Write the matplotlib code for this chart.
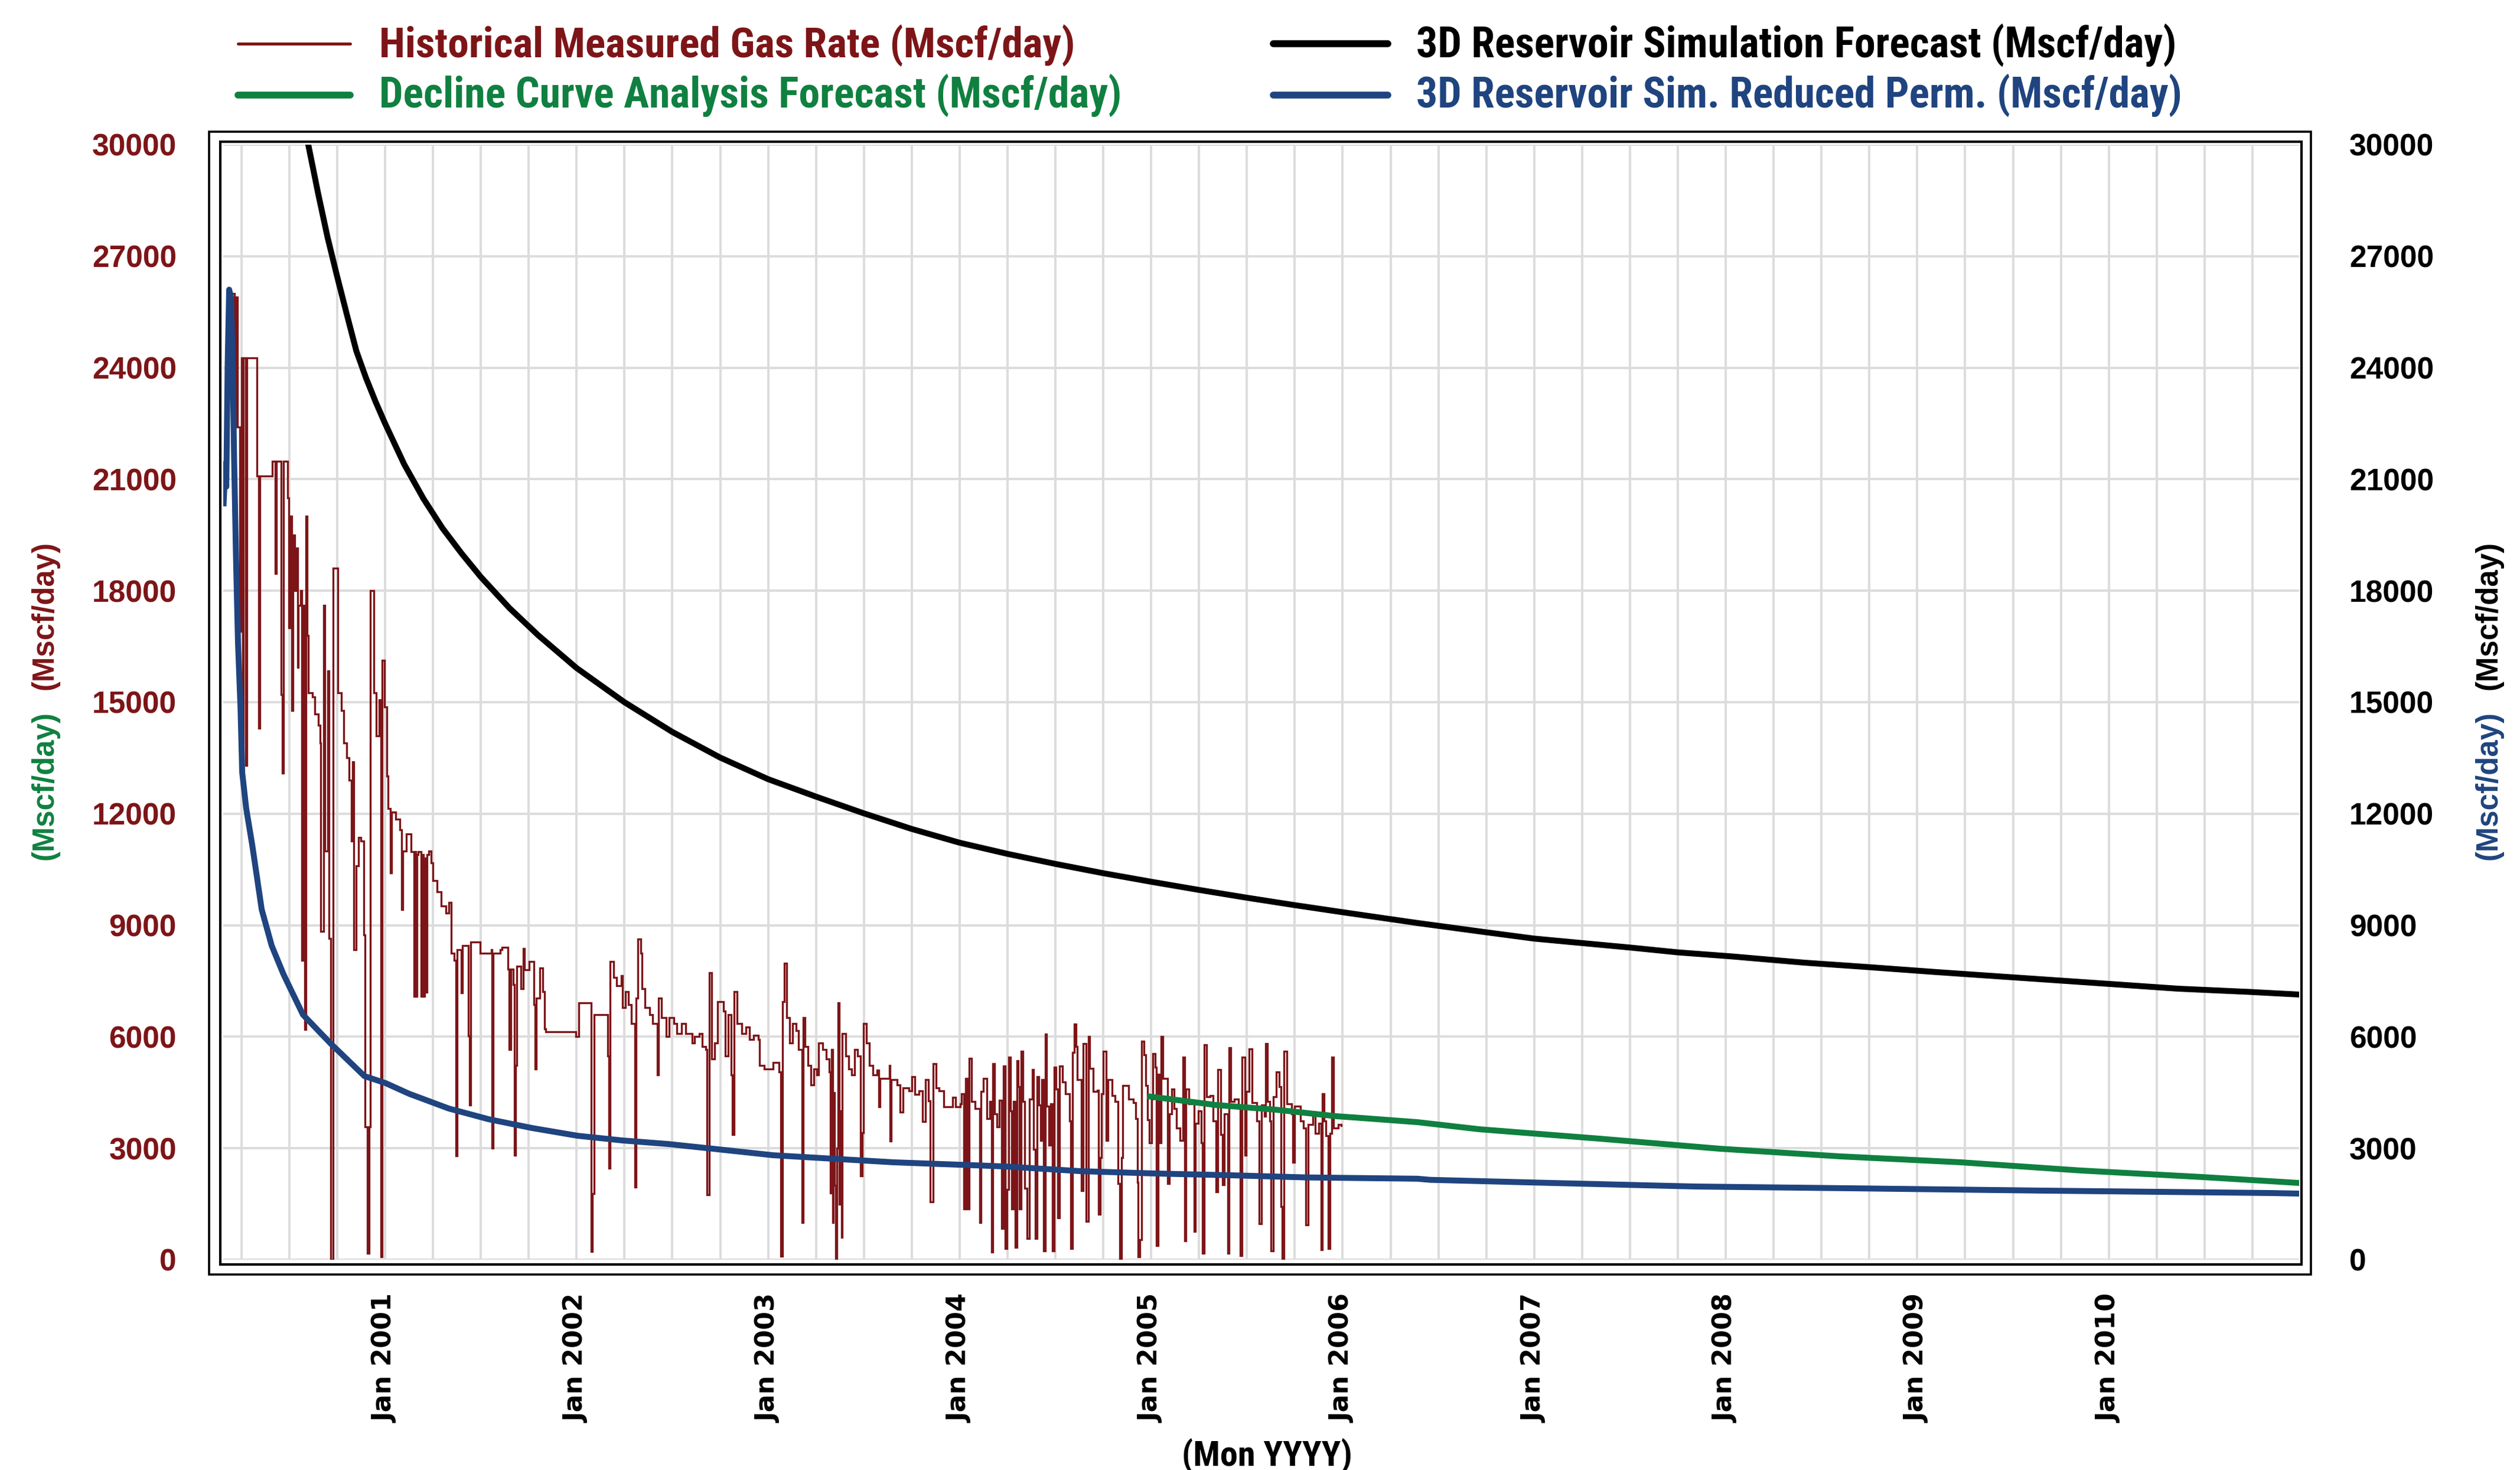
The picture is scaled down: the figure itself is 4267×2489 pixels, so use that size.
import numpy as np
import matplotlib
matplotlib.use("Agg")
import matplotlib.pyplot as plt
from matplotlib import font_manager
from matplotlib.lines import Line2D
from matplotlib.patches import Rectangle

# Размер картинки в пикселях
W, H = 4267, 2489
DPI = 200

RED = "#7d1518"
GREEN = "#0f8040"
BLUE = "#1f447f"
GRID = "#dcdcdc"

# Исторический дебит газа (год, Mscf/day)
hist_data = [
    (2000.204, 26000), (2000.214, 22400), (2000.220, 25900), (2000.230, 22400),
    (2000.240, 16900), (2000.246, 22300), (2000.251, 24260), (2000.256, 13100),
    (2000.261, 24260), (2000.272, 13300), (2000.277, 24260), (2000.331, 21090),
    (2000.340, 14300), (2000.345, 21090), (2000.412, 21480), (2000.427, 18470),
    (2000.433, 21480), (2000.456, 15200), (2000.462, 13100), (2000.470, 21480),
    (2000.490, 20500), (2000.496, 17000), (2000.502, 20000), (2000.512, 14770),
    (2000.518, 19500), (2000.528, 18000), (2000.533, 19150), (2000.542, 15940),
    (2000.548, 17600), (2000.558, 18000), (2000.565, 8060), (2000.572, 17600),
    (2000.580, 6200), (2000.586, 20000), (2000.592, 16800), (2000.600, 15250),
    (2000.620, 15150), (2000.632, 14680), (2000.650, 14380), (2000.660, 13900),
    (2000.664, 8840), (2000.678, 17600), (2000.686, 11000), (2000.700, 15840),
    (2000.708, 8640), (2000.716, 0), (2000.730, 18600), (2000.752, 15250),
    (2000.772, 14770), (2000.785, 13900), (2000.798, 13500), (2000.812, 12900),
    (2000.823, 11270), (2000.830, 13400), (2000.838, 8350), (2000.850, 10600),
    (2000.862, 11360), (2000.874, 11270), (2000.888, 8740), (2000.896, 3580),
    (2000.908, 180), (2000.916, 3580), (2000.922, 18000), (2000.942, 15250),
    (2000.955, 14090), (2000.968, 15060), (2000.978, 80), (2000.986, 16130),
    (2000.998, 14870), (2001.008, 13020), (2001.016, 12140), (2001.028, 10400),
    (2001.034, 12050), (2001.056, 11850), (2001.076, 11560), (2001.086, 9420),
    (2001.092, 11000), (2001.112, 11460), (2001.135, 10980), (2001.150, 7090),
    (2001.156, 10980), (2001.160, 7090), (2001.166, 10900), (2001.172, 10980),
    (2001.189, 7090), (2001.195, 10900), (2001.200, 7090), (2001.206, 10800),
    (2001.212, 7200), (2001.220, 10900), (2001.228, 11000), (2001.240, 10680),
    (2001.251, 10200), (2001.271, 9900), (2001.292, 9520), (2001.318, 9320),
    (2001.333, 9610), (2001.344, 8250), (2001.362, 8060), (2001.369, 2800),
    (2001.376, 8350), (2001.398, 7180), (2001.404, 8450), (2001.436, 6020),
    (2001.442, 4170), (2001.448, 8550), (2001.497, 8250), (2001.555, 8350),
    (2001.559, 3000), (2001.565, 8250), (2001.600, 8350),
    (2001.611, 8410), (2001.642, 7810), (2001.648, 5660), (2001.656, 7810),
    (2001.670, 7400), (2001.674, 2810), (2001.681, 5230), (2001.689, 7900),
    (2001.708, 7290), (2001.721, 8370), (2001.729, 7800), (2001.752, 8030),
    (2001.776, 6860), (2001.784, 5140), (2001.790, 7035), (2001.807, 7850),
    (2001.823, 7210), (2001.831, 6220), (2001.839, 6130), (2001.996, 6000),
    (2002.012, 6910), (2002.075, 230), (2002.083, 1780), (2002.090, 6600),
    (2002.161, 5480), (2002.169, 2470), (2002.174, 8030), (2002.193, 7600),
    (2002.208, 7380), (2002.232, 7640), (2002.240, 6780), (2002.256, 7210),
    (2002.271, 6860), (2002.287, 6350), (2002.303, 1950), (2002.311, 7040),
    (2002.319, 8630), (2002.334, 8240), (2002.342, 7290), (2002.358, 6780),
    (2002.381, 6600), (2002.397, 6350), (2002.421, 4970), (2002.429, 7040),
    (2002.444, 6520), (2002.468, 6000), (2002.484, 6520), (2002.507, 6350),
    (2002.523, 6090), (2002.547, 6350), (2002.570, 6090), (2002.602, 5830),
    (2002.617, 6000), (2002.641, 6090), (2002.657, 5740), (2002.673, 5660),
    (2002.680, 1740), (2002.693, 7720), (2002.704, 5400), (2002.720, 5830),
    (2002.735, 6950), (2002.767, 6690), (2002.775, 5480), (2002.791, 6600),
    (2002.806, 4970), (2002.814, 3370), (2002.822, 7210), (2002.838, 6350),
    (2002.861, 6090), (2002.885, 6260), (2002.901, 5920), (2002.924, 6040),
    (2002.948, 5920), (2002.956, 5230), (2002.979, 5140), (2003.027, 5310),
    (2003.058, 5050), (2003.066, 100), (2003.074, 6950), (2003.085, 7980),
    (2003.097, 6520), (2003.113, 5830), (2003.129, 6350), (2003.145, 6170),
    (2003.160, 5660), (2003.176, 1000), (2003.184, 6520), (2003.192, 5740),
    (2003.208, 5230), (2003.223, 4710), (2003.239, 5140), (2003.255, 4970),
    (2003.263, 5830), (2003.286, 5660), (2003.302, 5400), (2003.318, 5050),
    (2003.325, 1800), (2003.330, 5660), (2003.336, 1000), (2003.341, 4500),
    (2003.348, 2000), (2003.354, 0), (2003.360, 3000), (2003.365, 6910),
    (2003.372, 1500), (2003.378, 4000), (2003.383, 600), (2003.388, 6090),
    (2003.404, 5480), (2003.420, 5140), (2003.436, 4970), (2003.451, 5660),
    (2003.467, 5480), (2003.483, 2260), (2003.491, 3420), (2003.498, 6350),
    (2003.514, 5830), (2003.530, 5230), (2003.546, 4970), (2003.568, 5100),
    (2003.577, 4110), (2003.585, 4880), (2003.608, 4880), (2003.632, 5230),
    (2003.636, 3200), (2003.642, 4840), (2003.672, 4710), (2003.688, 3980),
    (2003.703, 4620), (2003.735, 4540), (2003.750, 4930), (2003.766, 4450),
    (2003.789, 4540), (2003.805, 3720), (2003.821, 4840), (2003.837, 4280),
    (2003.845, 1560), (2003.860, 5270), (2003.876, 4620), (2003.892, 4540),
    (2003.916, 4110), (2003.940, 4110), (2003.963, 4370), (2003.979, 4110),
    (2004.002, 4190),
    (2004.010, 4458), (2004.021, 1362), (2004.030, 4886), (2004.041, 1362),
    (2004.049, 5413), (2004.062, 4261), (2004.081, 4063), (2004.104, 999),
    (2004.112, 4524), (2004.125, 4886), (2004.143, 3800), (2004.159, 4261),
    (2004.167, 209), (2004.172, 5282), (2004.183, 3931), (2004.194, 3569),
    (2004.206, 4294), (2004.219, 835), (2004.230, 5216), (2004.238, 308),
    (2004.246, 1889), (2004.257, 5446), (2004.266, 3997), (2004.273, 1362),
    (2004.282, 4261), (2004.291, 341), (2004.298, 5348), (2004.307, 4656),
    (2004.313, 1362), (2004.320, 5611), (2004.329, 4261), (2004.340, 1922),
    (2004.351, 571), (2004.364, 4327), (2004.379, 5117), (2004.387, 2976),
    (2004.395, 571), (2004.403, 4919), (2004.414, 4162), (2004.424, 3207),
    (2004.430, 4854), (2004.438, 242), (2004.446, 6072), (2004.455, 4129),
    (2004.466, 3075), (2004.474, 4195), (2004.485, 242), (2004.493, 5183),
    (2004.502, 4590), (2004.512, 1131), (2004.521, 5216), (2004.537, 4788),
    (2004.553, 4458), (2004.573, 3733), (2004.581, 308), (2004.589, 5578),
    (2004.597, 6336), (2004.608, 5743), (2004.615, 4854), (2004.634, 1856),
    (2004.644, 5809), (2004.660, 1032), (2004.671, 6006), (2004.678, 5150),
    (2004.697, 4524), (2004.718, 4557), (2004.726, 1230), (2004.734, 2745),
    (2004.741, 4458), (2004.749, 5611), (2004.765, 3207), (2004.773, 4854),
    (2004.796, 4425), (2004.812, 4261), (2004.828, 2054), (2004.836, 0),
    (2004.844, 2745), (2004.852, 4689), (2004.883, 4327), (2004.907, 4228),
    (2004.918, 3800), (2004.927, 2087), (2004.933, 77), (2004.941, 538),
    (2004.949, 5875), (2004.962, 5512), (2004.971, 4689), (2004.980, 3767),
    (2004.990, 3141), (2005.001, 4327), (2005.009, 5545), (2005.020, 5183),
    (2005.028, 374), (2005.037, 4985), (2005.047, 3141), (2005.053, 6006),
    (2005.062, 4886), (2005.087, 2054), (2005.095, 3931), (2005.106, 4590),
    (2005.119, 4063), (2005.132, 3536), (2005.150, 3207), (2005.166, 5446),
    (2005.174, 505), (2005.182, 4590), (2005.198, 4195), (2005.223, 769),
    (2005.232, 3668), (2005.245, 3997), (2005.261, 3141), (2005.268, 176),
    (2005.276, 5776), (2005.289, 4392), (2005.308, 4425), (2005.323, 3733),
    (2005.339, 1823), (2005.347, 5117), (2005.363, 3371), (2005.374, 2021),
    (2005.383, 3931), (2005.399, 176), (2005.405, 5710), (2005.415, 4261),
    (2005.434, 4327), (2005.457, 4129), (2005.465, 110), (2005.473, 5446),
    (2005.489, 2811), (2005.497, 4524), (2005.512, 5677), (2005.528, 4228),
    (2005.552, 3733), (2005.563, 967), (2005.575, 4162), (2005.591, 3865),
    (2005.599, 5809), (2005.607, 4261), (2005.619, 3733), (2005.626, 242),
    (2005.638, 4392), (2005.654, 5051), (2005.670, 4656), (2005.677, 1428),
    (2005.685, 33), (2005.693, 5611), (2005.709, 4195), (2005.733, 3931),
    (2005.740, 2614), (2005.748, 4129), (2005.780, 3733), (2005.795, 3536),
    (2005.808, 934), (2005.819, 3635), (2005.843, 3931), (2005.858, 3404),
    (2005.874, 3668), (2005.887, 275), (2005.893, 4458), (2005.902, 3733),
    (2005.913, 3338), (2005.924, 308), (2005.934, 3404), (2005.943, 5446),
    (2005.953, 3536), (2005.976, 3635), (2005.992, 3602),
]

# Прогноз 3D моделирования
sim_data = [
    (2000.550, 31400), (2000.599, 30000), (2000.650, 28700), (2000.700, 27500),
    (2000.750, 26450), (2000.800, 25440), (2000.850, 24450), (2000.900, 23730),
    (2000.950, 23090), (2001.000, 22500), (2001.100, 21400), (2001.200, 20480),
    (2001.300, 19680), (2001.400, 19000), (2001.500, 18370), (2001.650, 17530),
    (2001.800, 16800), (2002.000, 15920), (2002.250, 15000), (2002.500, 14200),
    (2002.750, 13510), (2003.000, 12930), (2003.250, 12460), (2003.500, 12010),
    (2003.750, 11590), (2004.000, 11220), (2004.250, 10920), (2004.500, 10650),
    (2004.750, 10400), (2005.000, 10170), (2005.250, 9950), (2005.500, 9740),
    (2005.750, 9540), (2006.000, 9350), (2006.390, 9060), (2006.750, 8810),
    (2007.000, 8640), (2007.250, 8520), (2007.500, 8400), (2007.750, 8270),
    (2008.034, 8160), (2008.410, 7993), (2008.724, 7881), (2009.104, 7738),
    (2009.418, 7627), (2009.733, 7516), (2010.047, 7405), (2010.362, 7293),
    (2010.738, 7205), (2010.994, 7135),
]

# Прогноз по кривой падения
dca_data = [
    (2004.995, 4390), (2005.339, 4163), (2005.653, 4036), (2005.968, 3861),
    (2006.082, 3820), (2006.390, 3702), (2006.711, 3512), (2007.340, 3258),
    (2007.969, 2987), (2008.598, 2781), (2009.227, 2622), (2009.856, 2400),
    (2010.489, 2225), (2010.994, 2066),
]

# 3D модель с пониженной проницаемостью
perm_data = [
    (2000.157, 20350), (2000.166, 21420), (2000.171, 20800), (2000.178, 24090),
    (2000.186, 26100), (2000.195, 25900), (2000.203, 24500), (2000.212, 21500),
    (2000.222, 18800), (2000.232, 16600), (2000.245, 14870), (2000.254, 13110),
    (2000.275, 12140), (2000.306, 11170), (2000.356, 9420), (2000.408, 8450),
    (2000.470, 7675), (2000.571, 6595), (2000.716, 5816), (2000.892, 4942),
    (2001.003, 4751), (2001.126, 4465), (2001.333, 4068), (2001.540, 3782),
    (2001.768, 3543), (2002.005, 3336), (2002.240, 3209), (2002.477, 3114),
    (2002.711, 2987), (2003.026, 2812), (2003.340, 2717), (2003.655, 2622),
    (2004.077, 2542), (2004.238, 2510), (2004.632, 2383), (2005.024, 2320),
    (2005.419, 2272), (2005.810, 2215), (2006.390, 2180), (2006.458, 2150),
    (2007.090, 2066), (2007.842, 1970), (2008.663, 1922), (2009.668, 1859),
    (2010.834, 1796), (2010.994, 1780),
]

tick_years = list(range(2001, 2011))
tick_labels = ["Jan %d" % y for y in tick_years]
rate_ticks = list(range(0, 30001, 3000))
rate_labels = [str(v) for v in rate_ticks]

legend_labels = [
    "Historical Measured Gas Rate (Mscf/day)",
    "Decline Curve Analysis Forecast (Mscf/day)",
    "3D Reservoir Simulation Forecast (Mscf/day)",
    "3D Reservoir Sim. Reduced Perm. (Mscf/day)",
]

names = {f.name for f in font_manager.fontManager.ttflist}
narrow = next((n for n in ["Liberation Sans Narrow", "Arial Narrow", "Roboto Condensed"]
               if n in names), "Liberation Sans")

plt.rcParams["font.family"] = ["DejaVu Sans"]

fig = plt.figure(figsize=(W / DPI, H / DPI), dpi=DPI)
renderer = fig.canvas.get_renderer()


def fx(px):
    return px / W


def fy(py):
    return 1 - py / H


def fitted_size(s, target, **kw):
    # подбираем кегль так, чтобы длина текста совпала с нужной (в пикселях)
    t = fig.text(0, 0, s, fontsize=20, **kw)
    bb = t.get_window_extent(renderer)
    t.remove()
    return 20 * target / max(bb.width, bb.height)


ax = fig.add_axes([fx(378), fy(2133), fx(3893 - 378), (2133 - 245) / H])
ax.set_xlim(2000.155, 2010.994)
ax.set_ylim(0, 30000)

for d, col, lw, z, style, join in [
    (hist_data, RED, 1.2, 3, "steps-post", "miter"),
    (sim_data, "black", 3.6, 4, "default", "round"),
    (dca_data, GREEN, 3.6, 5, "default", "round"),
    (perm_data, BLUE, 3.6, 6, "default", "round"),
]:
    xs, ys = np.array(d).T
    ax.plot(xs, ys, color=col, lw=lw, zorder=z, drawstyle=style, solid_joinstyle=join)

xsize = fitted_size("Jan 2001", 218, family="DejaVu Sans", weight="bold")
ysize = fitted_size("30000", 143, family="Liberation Sans", weight="bold")

ax.set_xticks(tick_years, labels=tick_labels, rotation=90, fontsize=xsize,
              fontweight="bold", fontfamily="DejaVu Sans")
ax.set_xticks(np.arange(2000.25, 2011, 0.25), minor=True)
ax.set_yticks(rate_ticks, labels=rate_labels, fontsize=ysize, fontweight="bold",
              fontfamily="Liberation Sans", color=RED)
ax.grid(True, which="both", axis="x", color=GRID, lw=1.4)
ax.grid(True, which="major", axis="y", color=GRID, lw=1.4)
ax.set_axisbelow(True)
ax.tick_params(which="both", length=0)
ax.tick_params(axis="y", pad=28.4)
ax.tick_params(axis="x", pad=21)
for s in ax.spines.values():
    s.set_visible(False)

ax2 = ax.twinx()
ax2.set_ylim(0, 30000)
ax2.set_yticks(rate_ticks, labels=rate_labels, fontsize=ysize, fontweight="bold",
               fontfamily="Liberation Sans", color="black")
ax2.tick_params(length=0, pad=30.6)
for s in ax2.spines.values():
    s.set_visible(False)

# Двойная рамка вокруг графика
fig.add_artist(Rectangle((fx(354), fy(2158)), fx(3913 - 354), (2158 - 223) / H,
                         transform=fig.transFigure, fill=False, ec="black", lw=1.3))
fig.add_artist(Rectangle((fx(373), fy(2141)), fx(3897 - 373), (2141 - 240) / H,
                         transform=fig.transFigure, fill=False, ec="black", lw=1.5))

# Легенда
legend = [
    (403, 593, 642, 97, 74, RED, 1.8, legend_labels[0], 1178),
    (403, 593, 642, 182, 161, GREEN, 4.2, legend_labels[1], 1255),
    (2156, 2350, 2398, 97, 74, "black", 4.2, legend_labels[2], 1286),
    (2156, 2350, 2398, 182, 161, BLUE, 4.2, legend_labels[3], 1296),
]
for x0, x1, xt, yb, yl, col, lw, lab, wpx in legend:
    fig.add_artist(Line2D([fx(x0), fx(x1)], [fy(yl), fy(yl)], transform=fig.transFigure,
                          color=col, lw=lw, solid_capstyle="round"))
    size = fitted_size(lab, wpx, family=narrow, weight="bold")
    fig.text(fx(xt), fy(yb), lab, color=col, ha="left", va="baseline",
             family=narrow, weight="bold", fontsize=size)

# Подписи осей
lsize = fitted_size("(Mscf/day)", 252, family="Liberation Sans", weight="bold")
for x, y, col in [(76, 1042, RED), (76, 1330, GREEN), (4214, 1042, "black"), (4214, 1330, BLUE)]:
    fig.text(fx(x), fy(y), "(Mscf/day)", color=col, rotation=90, ha="center",
             va="center", family="Liberation Sans", weight="bold", fontsize=lsize)

msize = fitted_size("(Mon YYYY)", 288, family=narrow, weight="bold")
fig.text(fx(2145), fy(2466), "(Mon YYYY)", color="black", ha="center", va="center",
         family=narrow, weight="bold", fontsize=msize)

fig.savefig("out.png", dpi=DPI)
